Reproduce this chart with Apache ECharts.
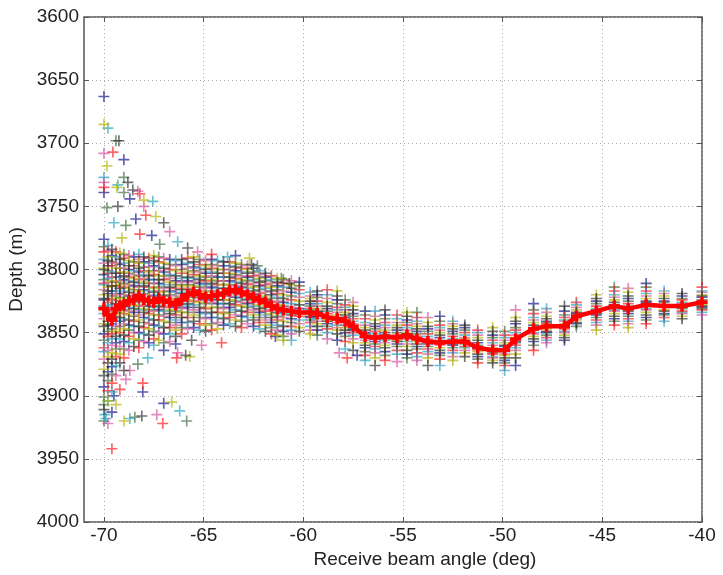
<!DOCTYPE html>
<html><head><meta charset="utf-8">
<script src="https://cdn.jsdelivr.net/npm/echarts@6/dist/echarts.min.js"></script>
<style>html,body{margin:0;background:#fff}#c{width:723px;height:575px}</style>
</head><body><div id="c"></div>
<script>
// Beam angle columns (deg)
const beamAngles = [-70.0,-69.8,-69.6,-69.4,-69.2,-69.0,-68.75,-68.5,-68.25,-68.0,-67.75,-67.5,-67.25,-67.0,-66.7,-66.4,-66.1,-65.8,-65.5,-65.2,-64.9,-64.6,-64.3,-64.0,-63.7,-63.4,-63.1,-62.8,-62.5,-62.2,-61.9,-61.6,-61.3,-61.0,-60.6,-60.2,
  -59.65,-59.3,-58.8,-58.3,-57.9,-57.5,-56.9,-56.4,-55.9,-55.3,-54.8,-54.3,-53.75,-53.15,-52.5,-51.9,-51.25,-50.5,-49.9,-49.35,-48.45,-47.8,-46.9,-46.3,-45.3,-44.4,-43.7,-42.8,-41.9,-41.0,-40.0];
// Mean depth per column (red line)
const meanDepth = [3831,3836,3840,3831,3829,3828,3825,3824,3821,3824,3825,3826,3823,3825,3826,3828,3824,3820,3818,3820,3822,3821,3820,3819,3817,3816,3818,3820,3822,3824,3826,3829,3831,3832,3833,3834,
  3834,3835,3838,3839,3841,3845,3853,3854,3853,3854,3852,3855,3857,3858,3857,3857,3862,3864,3864,3855,3847,3845,3845,3837,3833,3829,3831,3828,3829,3829,3826];
// Soundings per column (m)
const pingDepths = [
 [3776,3782,3786,3792,3795,3799,3800,3804,3808,3811,3812,3816,3820,3823,3824,3829,3831,3835,3839,3843,3845,3851,3856,3862,3865,3871,3879,3884,3893,3901],
 [3781,3785,3790,3793,3797,3801,3803,3807,3810,3814,3817,3819,3823,3826,3830,3833,3836,3841,3844,3849,3853,3858,3864,3869,3874,3881,3888,3896,3904],
 [3784,3789,3794,3797,3802,3806,3809,3813,3817,3821,3824,3828,3832,3836,3840,3843,3847,3851,3855,3860,3866,3871,3877,3883,3890,3897],
 [3786,3790,3795,3799,3803,3806,3810,3813,3817,3820,3823,3827,3830,3834,3837,3841,3845,3849,3853,3858,3863,3869,3876,3884],
 [3787,3792,3796,3799,3803,3806,3809,3812,3815,3819,3822,3825,3828,3831,3834,3838,3841,3845,3850,3855,3861,3867,3874],
 [3788,3791,3795,3799,3802,3805,3808,3811,3814,3817,3820,3823,3826,3829,3832,3835,3839,3843,3847,3852,3857,3863,3870],
 [3789,3793,3797,3800,3803,3806,3809,3812,3815,3818,3821,3824,3827,3830,3833,3836,3840,3844,3848,3853,3858,3864],
 [3790,3794,3797,3801,3804,3807,3810,3813,3816,3819,3822,3825,3828,3831,3834,3837,3841,3845,3850,3855,3861],
 [3788,3792,3795,3799,3802,3805,3808,3811,3814,3817,3820,3823,3826,3829,3832,3836,3840,3845,3850,3856,3862],
 [3790,3794,3798,3801,3804,3807,3810,3813,3816,3819,3822,3825,3828,3831,3834,3838,3842,3846,3851,3857],
 [3791,3795,3798,3802,3805,3808,3811,3814,3817,3820,3823,3826,3829,3832,3835,3839,3843,3847,3852,3858],
 [3789,3793,3797,3801,3804,3808,3811,3815,3818,3821,3824,3827,3830,3833,3836,3840,3844,3849,3855,3860],
 [3790,3794,3798,3801,3805,3808,3811,3814,3817,3820,3823,3826,3829,3832,3836,3840,3845,3850,3856],
 [3791,3795,3799,3802,3805,3808,3812,3815,3818,3821,3824,3827,3830,3833,3837,3841,3846,3851,3858],
 [3792,3796,3800,3804,3807,3810,3814,3817,3820,3823,3826,3829,3832,3835,3838,3842,3846,3851,3857],
 [3793,3797,3801,3805,3809,3812,3815,3818,3821,3824,3827,3830,3833,3836,3840,3844,3848,3853,3859],
 [3792,3796,3800,3803,3807,3810,3813,3816,3819,3822,3825,3828,3831,3834,3838,3842,3846,3851],
 [3791,3795,3799,3802,3806,3809,3812,3815,3818,3821,3824,3827,3830,3834,3838,3842,3847],
 [3790,3794,3798,3801,3804,3807,3810,3813,3816,3819,3822,3825,3828,3832,3836,3841,3846],
 [3792,3796,3799,3802,3805,3808,3811,3814,3817,3820,3823,3826,3830,3834,3838,3843,3848],
 [3793,3797,3800,3803,3806,3809,3812,3815,3818,3821,3824,3827,3831,3835,3839,3844,3849],
 [3792,3796,3799,3802,3805,3808,3811,3814,3817,3820,3823,3826,3830,3834,3838,3843,3848],
 [3793,3797,3800,3803,3806,3809,3812,3815,3818,3821,3824,3827,3830,3834,3838,3842,3847],
 [3794,3797,3800,3803,3806,3809,3812,3815,3818,3821,3824,3827,3831,3835,3839,3844],
 [3794,3797,3800,3803,3806,3809,3812,3815,3818,3821,3824,3827,3830,3834,3838,3843],
 [3795,3798,3801,3804,3807,3810,3813,3816,3819,3822,3825,3828,3832,3836,3840,3845],
 [3796,3799,3802,3805,3808,3811,3814,3817,3820,3823,3826,3829,3833,3837,3841,3846],
 [3797,3800,3803,3806,3809,3812,3815,3818,3821,3824,3827,3830,3834,3838,3843],
 [3799,3802,3805,3808,3811,3814,3817,3820,3823,3826,3829,3832,3836,3840,3845],
 [3801,3804,3807,3810,3813,3816,3819,3822,3825,3828,3831,3834,3838,3842,3847],
 [3803,3806,3809,3812,3815,3818,3821,3824,3827,3830,3833,3836,3840,3844,3849],
 [3805,3808,3811,3814,3817,3820,3823,3826,3829,3832,3835,3838,3842,3846,3851],
 [3807,3810,3813,3816,3819,3822,3825,3828,3831,3834,3837,3840,3844,3848,3852],
 [3808,3811,3814,3817,3820,3823,3826,3829,3832,3835,3838,3841,3845,3849,3853],
 [3809,3812,3815,3818,3821,3824,3827,3830,3833,3836,3839,3842,3845,3848,3851],
 [3810,3813,3816,3819,3822,3825,3828,3831,3834,3837,3840,3843,3846,3849],
 [3818,3821,3823,3825,3827,3829,3831,3832,3834,3835,3837,3838,3840,3842,3845,3848,3851],
 [3817,3820,3822,3825,3827,3829,3831,3833,3834,3835,3837,3839,3841,3843,3845,3848,3852],
 [3816,3820,3823,3826,3829,3831,3833,3835,3837,3838,3840,3841,3843,3845,3847,3850,3855],
 [3817,3821,3824,3827,3830,3832,3834,3836,3838,3839,3840,3842,3844,3846,3848,3851,3856],
 [3824,3828,3830,3832,3834,3836,3838,3840,3841,3842,3844,3846,3848,3850,3853,3857,3863],
 [3826,3829,3832,3835,3837,3839,3841,3843,3844,3845,3847,3848,3850,3852,3855,3858,3864],
 [3833,3836,3839,3842,3844,3846,3848,3850,3851,3853,3854,3856,3858,3860,3862,3865,3868,3872],
 [3833,3837,3840,3843,3845,3847,3849,3851,3853,3854,3855,3857,3859,3861,3863,3866,3870,3876],
 [3832,3836,3839,3842,3844,3846,3848,3850,3852,3853,3855,3856,3858,3860,3862,3865,3868,3872],
 [3836,3839,3842,3844,3846,3848,3850,3852,3853,3854,3856,3857,3859,3861,3864,3867,3873],
 [3834,3837,3840,3842,3844,3846,3848,3850,3851,3852,3854,3855,3857,3859,3861,3864,3867,3870],
 [3834,3838,3841,3843,3845,3847,3849,3851,3853,3854,3855,3857,3859,3861,3863,3866,3869,3872],
 [3838,3842,3845,3847,3849,3851,3853,3855,3856,3857,3859,3861,3863,3865,3867,3870,3876],
 [3837,3841,3844,3846,3848,3850,3852,3854,3856,3857,3858,3860,3862,3864,3866,3868,3871,3876],
 [3841,3843,3845,3847,3849,3851,3853,3855,3856,3857,3859,3860,3862,3864,3866,3869,3872],
 [3844,3846,3848,3850,3852,3854,3855,3857,3858,3859,3861,3862,3864,3866,3869],
 [3848,3850,3852,3854,3856,3858,3860,3861,3862,3864,3865,3867,3869,3871,3874],
 [3846,3849,3852,3854,3856,3858,3860,3862,3863,3864,3866,3867,3869,3870,3872,3874],
 [3849,3852,3854,3856,3858,3860,3861,3863,3864,3865,3867,3868,3870,3872,3874,3876,3880],
 [3832,3838,3841,3843,3846,3848,3850,3852,3854,3855,3857,3858,3860,3862,3864,3867,3870,3876],
 [3827,3832,3835,3838,3840,3842,3844,3846,3847,3848,3850,3851,3853,3855,3857,3860,3864],
 [3831,3834,3837,3839,3841,3842,3843,3845,3846,3847,3849,3850,3852,3854,3856,3858],
 [3829,3833,3836,3838,3840,3841,3843,3844,3845,3846,3847,3849,3850,3852,3854,3856],
 [3826,3828,3830,3832,3834,3835,3836,3837,3838,3839,3840,3842,3843,3845],
 [3820,3823,3825,3827,3829,3831,3832,3833,3835,3836,3838,3840,3842,3844,3848],
 [3814,3817,3820,3822,3824,3826,3828,3829,3830,3832,3833,3835,3837,3839,3841,3844],
 [3815,3818,3821,3823,3825,3827,3829,3830,3832,3833,3835,3837,3839,3841,3843,3846],
 [3811,3814,3817,3819,3821,3823,3825,3826,3828,3829,3831,3832,3834,3836,3838,3840,3843],
 [3817,3819,3821,3823,3825,3826,3828,3829,3830,3832,3833,3835,3836,3838,3841],
 [3819,3821,3823,3824,3826,3827,3828,3829,3830,3831,3833,3834,3835,3837,3839],
 [3814,3817,3818,3820,3821,3822,3824,3825,3826,3827,3828,3829,3830,3831,3832,3834,3836]
];
// Scattered soundings away from the main band
const outlierAngles = [-70.0,-70.0,-69.8,-69.4,-69.25,-70.0,-69.55,-69.0,-69.85,-70.0,-69.0,-68.8,-70.0,-70.0,-70.0,-69.35,-69.3,-69.0,-68.55,-68.3,-68.2,-68.7,-68.0,-67.55,-69.85,-69.3,-68.0,-67.9,-68.4,-67.4,-69.5,-68.9,-67.0,-66.7,-68.2,-67.6,-69.1,-66.3,-67.2,-65.8,-65.3,-64.6,-63.4,-62.7,-63.8,-62.3,-62.6,
  -68.7,-68.05,-68.05,-69.4,-69.95,-70.0,-70.0,-69.8,-69.6,-69.6,-68.99,-68.7,-68.45,-68.1,-67.35,-67.05,-67.0,-66.6,-66.2,-65.85,-65.9,-66.3,-66.35,-67.0,-65.7,-67.8,-68.3,-69.0,-68.9,-69.2,-69.5,-69.8,-69.9,-70.0,-65.6,-65.1,-64.1,-61.4,-61.0,-60.6,-61.1,-60.7,-58.2,-57.8,-57.3];
const outlierDepths = [3663,3685,3688,3698,3698,3708,3707,3713,3718,3727,3727,3731,3731,3735,3739,3735,3733,3739,3737,3738,3740,3744,3745,3746,3751,3750,3750,3757,3760,3758,3763,3765,3763,3770,3772,3773,3775,3778,3780,3783,3786,3788,3789,3791,3790,3797,3796,
  3880,3890,3897,3907,3915,3907,3911,3922,3942,3913,3920,3918,3917,3916,3915,3922,3906,3905,3912,3920,3868,3866,3870,3864,3869,3870,3875,3880,3887,3895,3900,3904,3918,3920,3856,3860,3858,3853,3856,3856,3807,3811,3866,3870,3868];

const xTicks = [-70,-65,-60,-55,-50,-45,-40];
const palette = ['rgba(20,20,140,0.85)','rgba(50,100,50,0.8)','rgba(255,10,10,0.8)','rgba(20,160,190,0.8)','rgba(210,60,150,0.75)','rgba(180,180,0,0.85)','rgba(35,35,35,0.8)'];

const buckets = palette.map(() => []);
pingDepths.forEach((col, ci) => col.forEach((d, i) => buckets[(i + ci * 3) % 7].push([beamAngles[ci], d])));
outlierAngles.forEach((a, i) => buckets[(i * 5) % 7].push([a, outlierDepths[i]]));
const meanData = beamAngles.map((a, i) => [a, meanDepth[i]]);

const plus = 'path://M0,4.25H10V5.75H0Z M4.25,0H5.75V10H4.25Z';
const plusBold = 'path://M0,3.4H10V6.6H0Z M3.4,0H6.6V10H3.4Z';
const font = "'Liberation Sans', Arial, sans-serif";
const txt = '#222';

const series = palette.map((c, k) => ({
  type: 'scatter', data: buckets[k], symbol: plus, symbolSize: 11,
  itemStyle: { color: c }, z: 2, silent: true
}));
series.push({
  type: 'line', data: meanData, symbol: plusBold, symbolSize: 11, showAllSymbol: true,
  itemStyle: { color: '#ff0000' }, lineStyle: { color: '#ff0000', width: 4.5 }, z: 5, silent: true
});

const chart = echarts.init(document.getElementById('c'), null, { renderer: 'canvas' });
chart.setOption({
  animation: false,
  backgroundColor: '#fff',
  textStyle: { fontFamily: font },
  grid: { left: 84, right: 21, top: 17, bottom: 53, outerBoundsMode: 'none', containLabel: false, show: true, borderColor: '#555', borderWidth: 1.5, backgroundColor: 'transparent' },
  xAxis: [{
    type: 'value', min: -71, max: -40, position: 'bottom',
    axisLine: { show: false },
    axisTick: { inside: true, length: 5, customValues: xTicks, lineStyle: { color: '#555' } },
    axisLabel: { customValues: xTicks, fontSize: 19, color: txt, margin: 4, fontFamily: font, formatter: v => String(v) },
    splitLine: { show: true, lineStyle: { type: [1, 3], color: '#aaa', width: 1 } },
    name: 'Receive beam angle (deg)', nameLocation: 'middle', nameGap: 26,
    nameTextStyle: { fontSize: 19, color: txt, fontFamily: font, padding: [0, 0, 0, 64] }
  }, {
    type: 'value', min: -71, max: -40, position: 'top',
    axisLine: { show: false },
    axisTick: { inside: true, length: 5, customValues: xTicks, lineStyle: { color: '#555' } },
    axisLabel: { show: false }, splitLine: { show: false }
  }],
  yAxis: [{
    type: 'value', inverse: true, min: 3600, max: 4000, interval: 50, position: 'left',
    axisLine: { show: false },
    axisTick: { inside: true, length: 5, lineStyle: { color: '#555' } },
    axisLabel: { fontSize: 19, color: txt, margin: 5, fontFamily: font, formatter: v => String(v) },
    splitLine: { show: true, lineStyle: { type: [1, 3], color: '#aaa', width: 1 } },
    name: 'Depth (m)', nameLocation: 'middle', nameGap: 52,
    nameTextStyle: { fontSize: 19, color: txt, fontFamily: font }
  }, {
    type: 'value', inverse: true, min: 3600, max: 4000, interval: 50, position: 'right',
    axisLine: { show: false },
    axisTick: { inside: true, length: 5, lineStyle: { color: '#555' } },
    axisLabel: { show: false }, splitLine: { show: false }
  }],
  series: series
});
</script></body></html>
